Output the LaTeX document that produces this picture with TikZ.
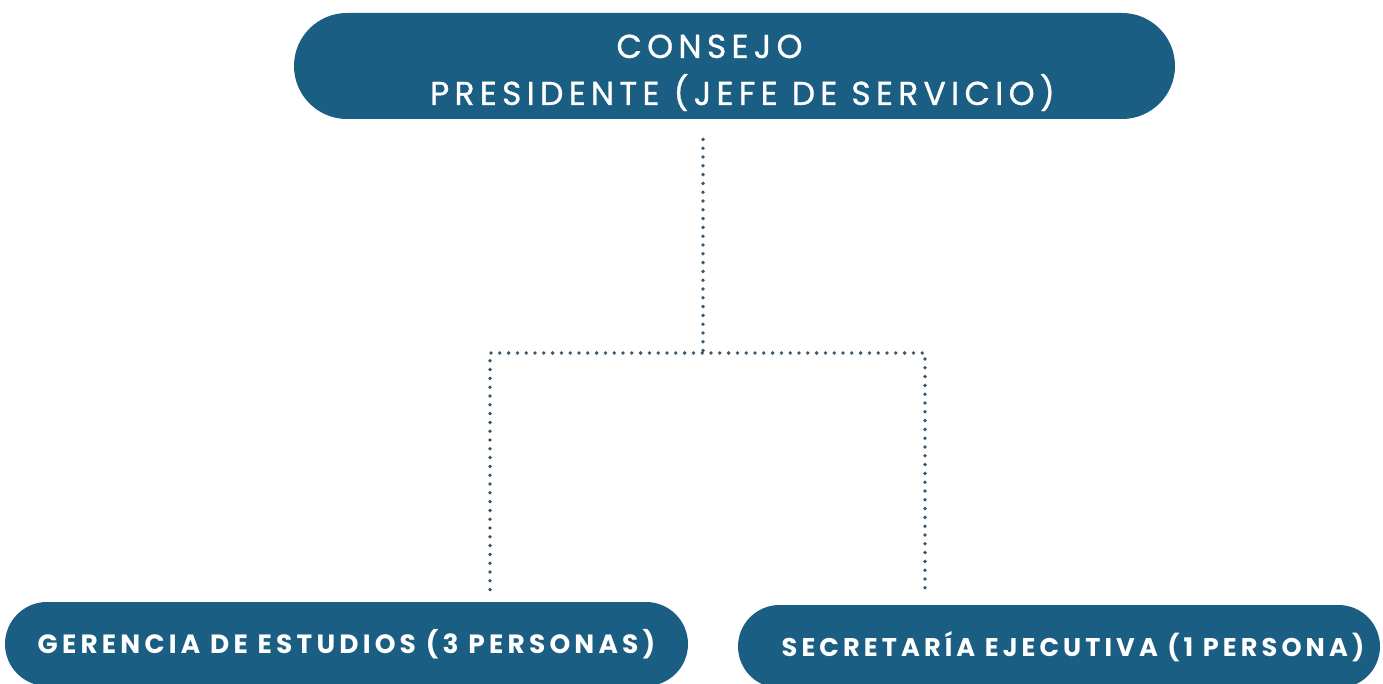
\documentclass[tikz,border=0pt]{standalone}
\usepackage{fontspec}
\setmainfont{Poppins}
\newfontfamily\cajafont[LetterSpace=16]{Poppins}
\newfontfamily\consejofont[LetterSpace=16, FakeBold=0.9]{Poppins}
\definecolor{azulcaja}{RGB}{27,94,131}
\definecolor{puntos}{RGB}{58,88,108}

\tikzset{
  caja/.style={fill=azulcaja, text=white, align=center, inner sep=0pt},
  enlace/.style={puntos, line width=1.9pt, dash pattern=on 0pt off 4.4pt,
    line cap=round}
}

\begin{document}
\begin{tikzpicture}[x=0.5pt, y=-0.5pt]
  \useasboundingbox (0,0) rectangle (1383,684);

  % Consejo
  \node[caja, minimum width=440.5pt, minimum height=53pt,
    rounded corners=26.5pt, text height=42pt,
    font=\consejofont\fontsize{16.5}{23.5}\selectfont]
    (consejo) at (734.5,66)
    {CONSEJO\hspace*{25pt}\\\hspace*{8pt}PRESIDENTE (JEFE DE SERVICIO)};

  % Unidades
  \node[caja, minimum width=341.5pt, minimum height=42pt,
    rounded corners=21pt, font=\cajafont\bfseries\fontsize{13.2}{16}\selectfont]
    (gerencia) at (346.5,644) {GERENCIA DE ESTUDIOS (3 PERSONAS)};
  \node[caja, minimum width=321pt, minimum height=41.5pt,
    rounded corners=20.75pt, font=\cajafont\bfseries\fontsize{12.8}{16}\selectfont]
    (secretaria) at (1059,646.5)
    {\hspace*{14pt}SECRETARÍA EJECUTIVA (1 PERSONA)};

  % Enlaces punteados
  \coordinate (rama) at (703,353);
  \coordinate (ramaizq) at (490,353);
  \coordinate (ramader) at (925,353);
  \draw[enlace, shorten <=10pt] (rama |- consejo.south) -- (rama);
  \draw[enlace, shorten <=6pt, shorten >=6pt]
    (ramaizq |- gerencia.north) -- (ramaizq) -- (ramader)
    -- (ramader |- secretaria.north);
\end{tikzpicture}
\end{document}
